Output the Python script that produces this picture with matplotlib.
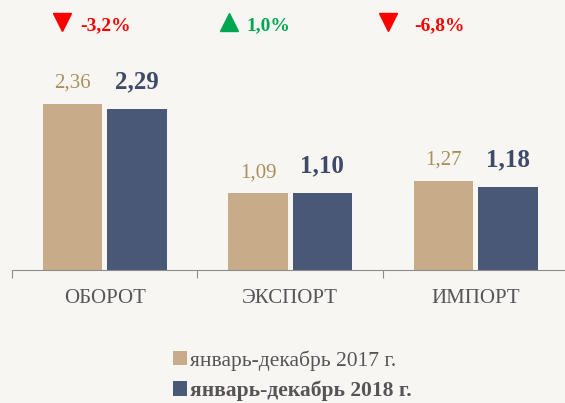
import matplotlib.pyplot as plt
from matplotlib.lines import Line2D
import numpy as np

categories = ["ОБОРОТ", "ЭКСПОРТ", "ИМПОРТ"]
values_2017 = [2.36, 1.09, 1.27]
values_2018 = [2.29, 1.10, 1.18]
changes = ["-3,2%", "1,0%", "-6,8%"]
series_names = ["январь-декабрь 2017 г.", "январь-декабрь 2018 г."]

bg = "#f7f6f2"
c17 = "#c8ab88"
c18 = "#4a5878"

plt.rcParams["font.family"] = ["Liberation Serif", "DejaVu Serif"]

fig = plt.figure(figsize=(5.65, 4.03), dpi=100, facecolor=bg)
ax = fig.add_axes([0.0212, 0.330, 0.985, 0.523])
ax.set_facecolor(bg)

x = np.arange(len(categories))
w = 0.32
gap = 0.027
b1 = ax.bar(x - w / 2 - gap / 2, values_2017, w, color=c17, label=series_names[0])
b2 = ax.bar(x + w / 2 + gap / 2, values_2018, w, color=c18, label=series_names[1])

for r, v in zip(b1, values_2017):
    ax.text(r.get_x() + r.get_width() / 2, v + 0.16, f"{v:.2f}".replace(".", ","),
            ha="center", va="bottom", fontsize=15, color="#a8905c")
for r, v in zip(b2, values_2018):
    ax.text(r.get_x() + r.get_width() / 2, v + 0.22, f"{v:.2f}".replace(".", ","),
            ha="center", va="bottom", fontsize=18, fontweight="bold", color="#3f4a68")

ax.set_xlim(-0.5, 2.5)
ax.set_ylim(0, 3)
ax.set_yticks([])
for s in ["top", "right", "left"]:
    ax.spines[s].set_visible(False)
ax.spines["bottom"].set_color("#8c8c8c")
ax.set_xticks([-0.5, 0.5, 1.5, 2.5])
ax.set_xticklabels([])
ax.tick_params(axis="x", length=6, color="#8c8c8c", direction="out")
for i, c in enumerate(categories):
    ax.text(i, -0.27, c, ha="center", va="top", fontsize=15, color="#555555")

# changes above groups
tri_x = [0.110, 0.405, 0.687]
txt_x = [0.142, 0.437, 0.733]
for i, ch in enumerate(changes):
    up = not ch.startswith("-")
    col = "#00a650" if up else "#ff0000"
    fig.add_artist(Line2D([tri_x[i]], [0.945], transform=fig.transFigure,
                          marker="^" if up else "v", markersize=13,
                          color=col, linestyle="none"))
    fig.text(txt_x[i], 0.937, ch, ha="left", va="center", fontsize=14,
             fontweight="bold", color=col)

leg = fig.legend(handles=[b1, b2], labels=series_names, loc="center",
                 bbox_to_anchor=(0.517, 0.068), frameon=False, fontsize=15.5,
                 handlelength=0.65, handleheight=0.65, handletextpad=0.15,
                 labelspacing=0.45, labelcolor="#555555")
leg.get_texts()[1].set_fontweight("bold")

fig.savefig("out.png", dpi=100, facecolor=bg)
